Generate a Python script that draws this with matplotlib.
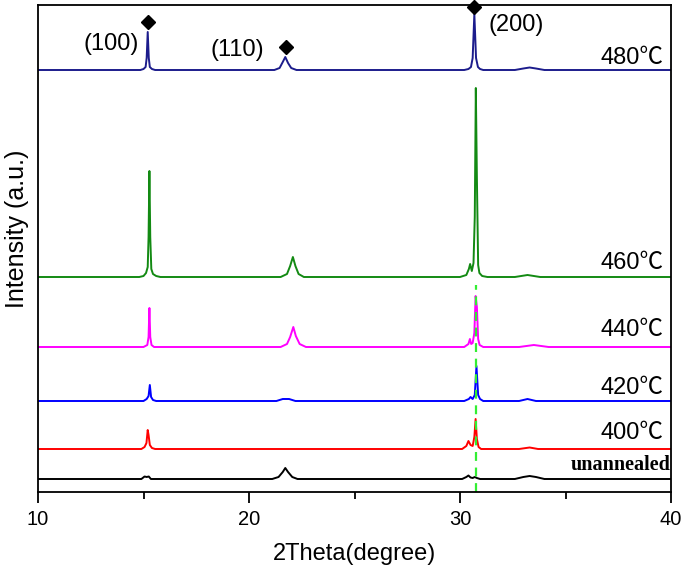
import matplotlib
matplotlib.use("Agg")
import matplotlib.pyplot as plt

# ---- data (2theta in degrees, intensity in arbitrary units above each baseline) ----
tt_480 = [10, 14.85, 15.0, 15.1, 15.15, 15.2, 15.25, 15.3, 15.4, 15.55, 21.2, 21.45, 21.6, 21.72, 21.85, 22.0, 22.25,
          30.2, 30.4, 30.52, 30.6, 30.68, 30.76, 30.85, 30.95, 31.1, 32.6, 33.0, 33.3, 33.6, 34.0, 40]
i_480 = [0, 0, 1, 3, 12, 38, 12, 3, 1, 0, 0, 2, 8, 13, 7, 2, 0,
         0, 1, 3, 12, 56, 12, 3, 1, 0, 0, 1.5, 2.5, 1.5, 0, 0]

tt_460 = [10, 14.8, 15.0, 15.12, 15.2, 15.24, 15.28, 15.32, 15.37, 15.45, 15.6, 15.8, 21.5, 21.8, 21.95, 22.08, 22.2,
          22.35, 22.6, 30.0, 30.3, 30.42, 30.48, 30.56, 30.64, 30.7, 30.75, 30.8, 30.86, 30.92, 31.05, 31.3, 32.6,
          33.2, 33.8, 40]
i_460 = [0, 0, 1, 4, 10, 40, 106, 40, 8, 3, 1, 0, 0, 3, 11, 20, 11,
         3, 0, 0, 2, 8, 13, 6, 14, 60, 189, 100, 12, 4, 1, 0, 0,
         2, 0, 0]

tt_440 = [10, 15.0, 15.18, 15.24, 15.28, 15.32, 15.38, 15.5, 21.5, 21.8, 21.95, 22.1, 22.22, 22.4, 22.7,
          30.2, 30.4, 30.47, 30.53, 30.6, 30.68, 30.74, 30.8, 30.86, 30.93, 31.1, 32.8, 33.5, 34.2, 40]
i_440 = [0, 0, 2, 10, 39, 10, 2, 0, 0, 3, 10, 20, 11, 3, 0,
         0, 3, 8, 3, 4, 14, 51, 40, 8, 2, 0, 0, 2, 0, 0]

tt_420 = [10, 15.0, 15.15, 15.24, 15.3, 15.36, 15.45, 15.6, 21.3, 21.6, 21.9, 22.2,
          30.2, 30.42, 30.5, 30.6, 30.7, 30.78, 30.86, 30.95, 31.1, 32.8, 33.2, 33.6, 40]
i_420 = [0, 0, 2, 5, 16, 4, 1, 0, 0, 2, 2, 0,
         0, 2, 4, 2, 6, 35, 6, 2, 0, 0, 2, 0, 0]

tt_400 = [10, 14.9, 15.05, 15.14, 15.2, 15.24, 15.3, 15.4, 15.55,
          30.1, 30.3, 30.4, 30.5, 30.6, 30.68, 30.74, 30.8, 30.88, 31.0, 32.8, 33.3, 33.7, 40]
i_400 = [0, 0, 2, 6, 19, 14, 4, 1, 0,
         0, 3, 8, 4, 3, 12, 30, 10, 2, 0, 0, 1.5, 0, 0]

tt_un = [10, 14.9, 15.05, 15.15, 15.25, 15.35, 21.1, 21.4, 21.6, 21.72, 21.85, 22.05, 22.3,
         30.1, 30.3, 30.4, 30.5, 30.6, 30.7, 30.8, 30.95, 32.6, 33.0, 33.3, 33.6, 34.0, 40]
i_un = [0, 0, 2.5, 2, 2.5, 0, 0, 2, 7, 11, 7, 2, 0,
        0, 2, 3.5, 1.5, 1, 2, 1, 0, 0, 2, 3, 2, 0, 0]

offsets = [13, 43, 91, 145, 215, 422]
labels = ["unannealed", "400\u2103", "420\u2103", "440\u2103", "460\u2103", "480\u2103"]
label_y = [27, 59, 104, 162, 229, 434]
colors = ["black", "#ff0000", "#0000ff", "#ff00ff", "#138a13", "#1c1c8c"]

peak_pos = [15.2, 21.75, 30.68]
peak_y = [470, 445, 485]
hkl = ["(100)", "(110)", "(200)"]
hkl_x = [13.45, 19.43, 32.65]
hkl_y = [448, 442, 467]

dash_x = 30.75
dash_top = 207

xticks_major = [10, 20, 30, 40]
xticks_minor = [15, 25, 35]

# ---- figure ----
fig = plt.figure(figsize=(6.85, 5.72), dpi=100)
ax = fig.add_axes([38 / 685, 80 / 572, 633 / 685, 487 / 572])

series = [(tt_un, i_un), (tt_400, i_400), (tt_420, i_420), (tt_440, i_440), (tt_460, i_460), (tt_480, i_480)]
for (tt, ii), off, c in zip(series, offsets, colors):
    ax.plot(tt, [v + off for v in ii], color=c, lw=1.4, solid_joinstyle="round")

ax.plot([dash_x, dash_x], [0, dash_top], color="#33ee33", lw=1.6, ls=(0, (4, 3)))

ax.plot(peak_pos, peak_y, ls="none", marker="D", color="black", ms=7, clip_on=False, zorder=5)
for t, x, y in zip(hkl, hkl_x, hkl_y):
    ax.text(x, y, t, ha="center", va="center", fontsize=17, family=["Liberation Sans", "DejaVu Sans"])

for lab, y in zip(labels, label_y):
    if lab == "unannealed":
        ax.text(39.97, y, lab, ha="right", va="center", fontsize=14.5, fontweight="bold",
                family=["Liberation Serif", "DejaVu Serif"])
    else:
        ax.text(39.65, y, lab, ha="right", va="center", fontsize=17,
                family=["Liberation Sans", "Noto Sans CJK SC", "DejaVu Sans"])

ax.set_xlim(10, 40)
ax.set_ylim(0, 487)
ax.set_xticks(xticks_major)
ax.set_xticks(xticks_minor, minor=True)
ax.set_yticks([])
ax.tick_params(axis="x", which="major", direction="out", length=8, width=1.3, labelsize=14.5, pad=5)
ax.tick_params(axis="x", which="minor", direction="out", length=5, width=1.3)
for lab in ax.get_xticklabels():
    lab.set_family(["Liberation Sans", "DejaVu Sans"])
for s in ax.spines.values():
    s.set_linewidth(1.3)

ax.set_xlabel("2Theta(degree)", fontsize=17, family=["Liberation Sans", "DejaVu Sans"], labelpad=10)
ax.set_ylabel("Intensity (a.u.)", fontsize=18, family=["Liberation Sans", "DejaVu Sans"])
ax.yaxis.set_label_coords(-0.014, 0.54)

fig.savefig("out.png", dpi=100)
